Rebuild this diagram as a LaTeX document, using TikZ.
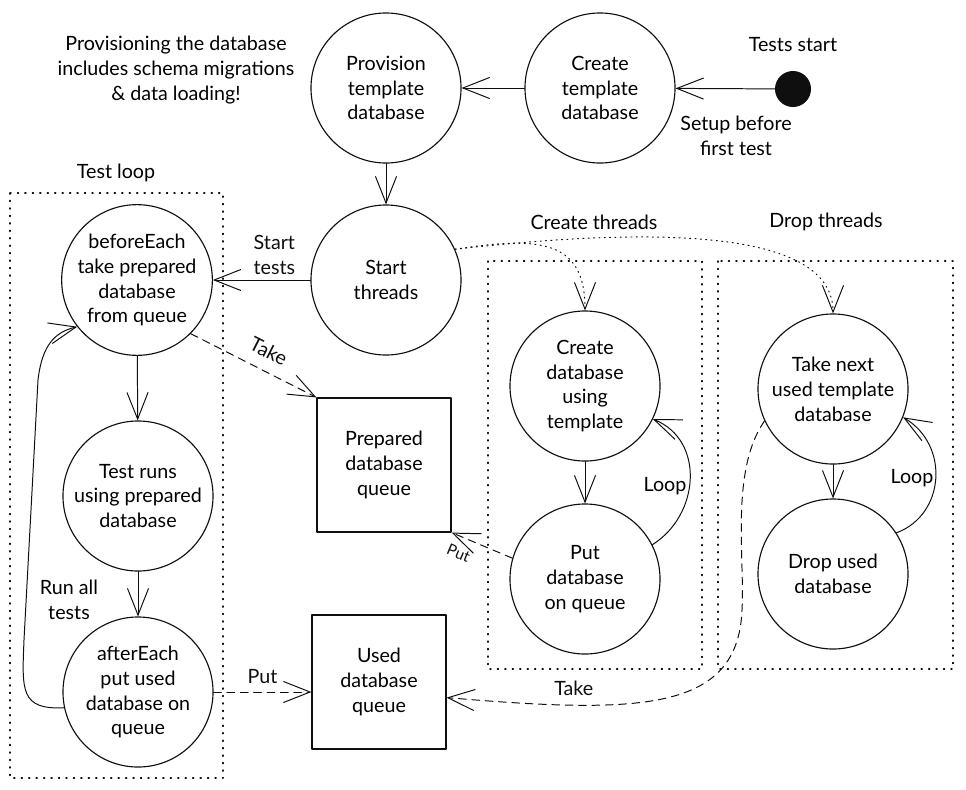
\documentclass[tikz,border=0pt]{standalone}
\usepackage{fontspec}
\setmainfont{Lato}
\usetikzlibrary{arrows.meta}
\definecolor{inkblack}{RGB}{15,15,15}

\begin{document}
\begin{tikzpicture}[x=0.025cm,y=-0.025cm,line cap=round,line join=round,
        font=\fontsize{14}{17.7}\selectfont,
        state/.style={draw=inkblack,circle,line width=0.8pt,minimum size=3.75cm,
            inner sep=0pt,align=center},
        queuebox/.style={draw=inkblack,rectangle,line width=0.8pt,minimum size=3.35cm,
            inner sep=0pt,align=center},
        flow/.style={inkblack,line width=0.7pt,
            -{Straight Barb[length=19pt,width=15pt]}},
        dashline/.style={dash pattern=on 5.5pt off 4pt},
        dotline/.style={dash pattern=on 0.8pt off 3pt},
        dotbox/.style={inkblack,line width=0.9pt,dash pattern=on 0.8pt off 4.5pt},
        smalllabel/.style={font=\fontsize{11}{13}\selectfont}]
        \useasboundingbox (0,0) rectangle (966,789);

        % Recuadros de los bucles
        \draw[dotbox] (10,193) rectangle (223,778);
        \draw[dotbox] (488,261) rectangle (702,669);
        \draw[dotbox] (718,261) rectangle (953,669);

        \node[align=center] (looptitle) at (116,173) {Test loop};
        \node[align=center] (createtitle) at (594,222) {Create threads};
        \node[align=center] (droptitle) at (826,222) {Drop threads};

        %----------------------------------------------------------
        % Preparación de la plantilla
        \node[circle,fill=inkblack,minimum size=0.9cm,inner sep=0pt]
            (startdot) at (793,89) {};
        \node (startnote) at (793,45) {Tests start};
        \node[align=center] (setupnote) at (736,136) {Setup before\\first test};
        \node[state] (createtpl) at (600,88) {Create\\template\\database};
        \node[state] (provision) at (386,88) {Provision\\template\\database};
        \node[align=center] (provnote) at (176,70)
            {Provisioning the database\\includes schema migrations\\\& data loading!};

        \draw[flow] (startdot) -- (createtpl);
        \draw[flow] (createtpl) -- (provision);

        %----------------------------------------------------------
        % Hilos y bucle de pruebas
        \node[state] (threads) at (386,280) {Start\\threads};
        \node[state] (before) at (137,280)
            {beforeEach\\take prepared\\database\\from queue};
        \node[state] (testrun) at (138,496) {Test runs\\using prepared\\database};
        \node[state] (after) at (138,692)
            {afterEach\\put used\\database on\\queue};

        \draw[flow] (provision) -- (threads);
        \draw[flow] (threads) -- node[above,pos=0.37,align=center] {Start\\tests} (before);
        \draw[flow] (before) -- (testrun);
        \draw[flow] (testrun) -- (after);
        \draw[flow] (after.192) .. controls (20,710) and (22,690) .. (24,640)
            -- (38,380) .. controls (42,345) and (55,332) .. (before.218);
        \node[align=center] (runnote) at (69,600) {Run all\\tests};

        %----------------------------------------------------------
        % Colas de bases de datos
        \node[queuebox] (prepq) at (384,465) {Prepared\\database\\queue};
        \node[queuebox] (usedq) at (379,682) {Used\\database\\queue};

        \draw[flow,dashline] (before.-45) -- node[sloped,above=5pt,pos=0.55] {Take}
            (prepq.north west);
        \draw[flow,dashline] (after.east) -- node[above=2pt] {Put} (after.east -| usedq.west);

        %----------------------------------------------------------
        % Hilo de creación
        \node[state] (createdb) at (585,386) {Create\\database\\using\\template};
        \node[state] (putdb) at (585,579) {Put\\database\\on queue};

        \draw[flow,dotline] (threads.24) .. controls (540,236) and (585,240) .. (createdb.north);
        \draw[flow] (createdb) -- (putdb);
        \draw[flow] (putdb.27) .. controls (700,515) and (705,440) .. (createdb.334);
        \node (createloop) at (665,486) {Loop};
        \draw[flow,dashline] (putdb.164) -- node[sloped,below=4pt,pos=0.78,smalllabel] {Put}
            (prepq.south east);

        %----------------------------------------------------------
        % Hilo de borrado
        \node[state] (takenext) at (833,389) {Take next\\used template\\database};
        \node[state] (dropdb) at (833,574) {Drop used\\database};

        \draw[flow,dotline] (threads.24) .. controls (660,226) and (833,230) .. (takenext.north);
        \draw[flow] (takenext) -- (dropdb);
        \draw[flow] (dropdb.33) .. controls (945,515) and (950,445) .. (takenext.338);
        \node (droploop) at (912,478) {Loop};
        \draw[flow,dashline] (takenext.205) .. controls (730,470) and (745,560) .. (742,610)
            .. controls (738,712) and (640,714) .. node[above=3pt,pos=0.75] {Take} (usedq.-13);
\end{tikzpicture}
\end{document}
